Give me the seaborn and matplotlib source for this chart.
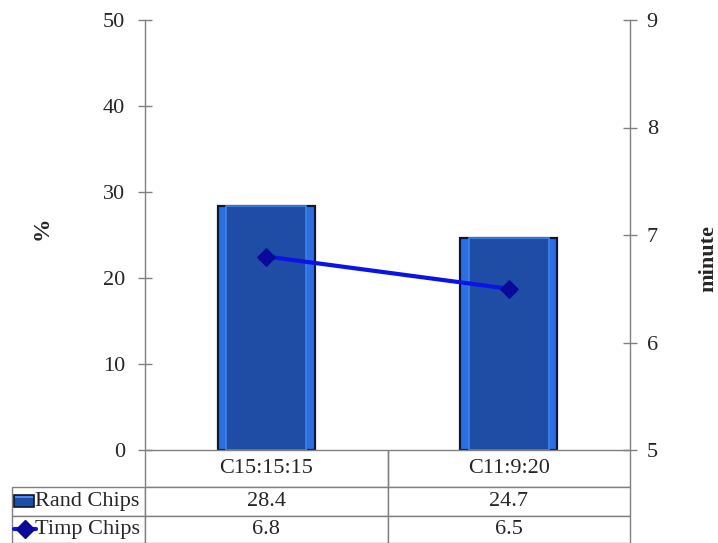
import matplotlib
matplotlib.use("Agg")
import matplotlib.pyplot as plt
from matplotlib.patches import Rectangle
from matplotlib.lines import Line2D
from matplotlib.table import Table
import seaborn as sns
import pandas as pd

categories = ["C15:15:15", "C11:9:20"]
rand_chips = [28.4, 24.7]
timp_chips = [6.8, 6.5]
series_names = ["Rand Chips", "Timp Chips"]
left_ticks = [0, 10, 20, 30, 40, 50]
right_ticks = [5, 6, 7, 8, 9]

sns.set_style("white")
plt.rcParams["font.family"] = ["Liberation Serif", "DejaVu Serif"]

df = pd.DataFrame({"cat": categories, "rand": rand_chips, "timp": timp_chips})

fig = plt.figure(figsize=(7.18, 5.43), dpi=100)
ax = fig.add_axes([145 / 718, 1 - 450 / 543, 485 / 718, 430 / 543])

# bevelled bars: light outer body with a darker inner panel
sns.barplot(data=df, x="cat", y="rand", ax=ax, width=0.4, color="#2C6FE0",
            edgecolor="#0A1838", linewidth=1.6, saturation=1)
sns.barplot(data=df, x="cat", y="rand", ax=ax, width=0.33, color="#1F4DA6",
            edgecolor="#3E82EE", linewidth=1.2, saturation=1)
for p in ax.patches[:len(categories)]:
    p.set_zorder(2)
for p in ax.patches[len(categories):]:
    p.set_zorder(3)

ax.set_xlim(-0.5, len(categories) - 0.5)
ax.set_ylim(0, 50)
ax.set_yticks(left_ticks)
ax.set_xticks([])
ax.set_xlabel("")
ax.set_ylabel("%", fontsize=17, fontweight="bold", rotation=90,
              ha="center", va="center")
ax.yaxis.set_label_coords(-0.212, 0.515)
ax.tick_params(axis="y", direction="inout", length=10, width=1, color="#808080",
               labelsize=16, pad=9.5)
for s in ["top", "right"]:
    ax.spines[s].set_visible(False)
for s in ["left", "bottom"]:
    ax.spines[s].set_color("#808080")
    ax.spines[s].set_linewidth(1)

ax2 = ax.twinx()
sns.lineplot(x=[0, 1], y=df["timp"], ax=ax2, color="#0A14E6", linewidth=3,
             marker="D", markersize=9, markerfacecolor="#0A0A9A",
             markeredgecolor="#0A0A9A", zorder=5)
ax2.set_ylim(5, 9)
ax2.set_yticks(right_ticks)
ax2.set_ylabel("minute", fontsize=16, fontweight="bold", rotation=90,
               ha="center", va="center")
ax2.yaxis.set_label_coords(1.161, 0.445)
ax2.tick_params(axis="y", direction="inout", length=10, width=1, color="#808080",
                labelsize=16, pad=7)
for s in ["top", "left", "bottom"]:
    ax2.spines[s].set_visible(False)
ax2.spines["right"].set_color("#808080")
ax2.spines["right"].set_linewidth(1)

# data table under the plot (sizes in axes fractions; bbox covers the value grid)
tbl = Table(ax, bbox=[0, -93 / 430, 1, 93 / 430])
label_w, col_w = 133 / 485, 0.5
row_h = [37 / 430, 29 / 430, 27 / 430]
for c, cat in enumerate(categories):
    cell = tbl.add_cell(0, c, width=col_w, height=row_h[0], text=cat, loc="center")
    cell.visible_edges = "LRB"
for r, (name, vals) in enumerate(zip(series_names, [rand_chips, timp_chips]), start=1):
    cell = tbl.add_cell(r, -1, width=label_w, height=row_h[r], text=name, loc="left")
    cell.PAD = 0.17
    for c, v in enumerate(vals):
        tbl.add_cell(r, c, width=col_w, height=row_h[r], text=f"{v}", loc="center")
tbl.auto_set_font_size(False)
tbl.set_fontsize(16)
for cell in tbl.get_celld().values():
    cell.set_edgecolor("#808080")
    cell.set_linewidth(1)
ax.add_table(tbl)

# legend keys in the row label cells
fig.add_artist(Rectangle((14 / 718, 1 - 507 / 543), 20 / 718, 12 / 543,
                         facecolor="#1F4DA6", edgecolor="#0A1838", lw=1.2,
                         transform=fig.transFigure))
fig.add_artist(Rectangle((15 / 718, 1 - 498 / 543), 18 / 718, 2 / 543,
                         facecolor="#4A8CF0", edgecolor="none",
                         transform=fig.transFigure))
fig.add_artist(Line2D([14 / 718, 36 / 718], [1 - 529 / 543, 1 - 529 / 543],
                      color="#0A14E6", lw=3, transform=fig.transFigure))
fig.add_artist(Line2D([25 / 718], [1 - 529 / 543], marker="D", markersize=9,
                      color="#0A0A9A", transform=fig.transFigure))

fig.savefig("out.png", dpi=100)
